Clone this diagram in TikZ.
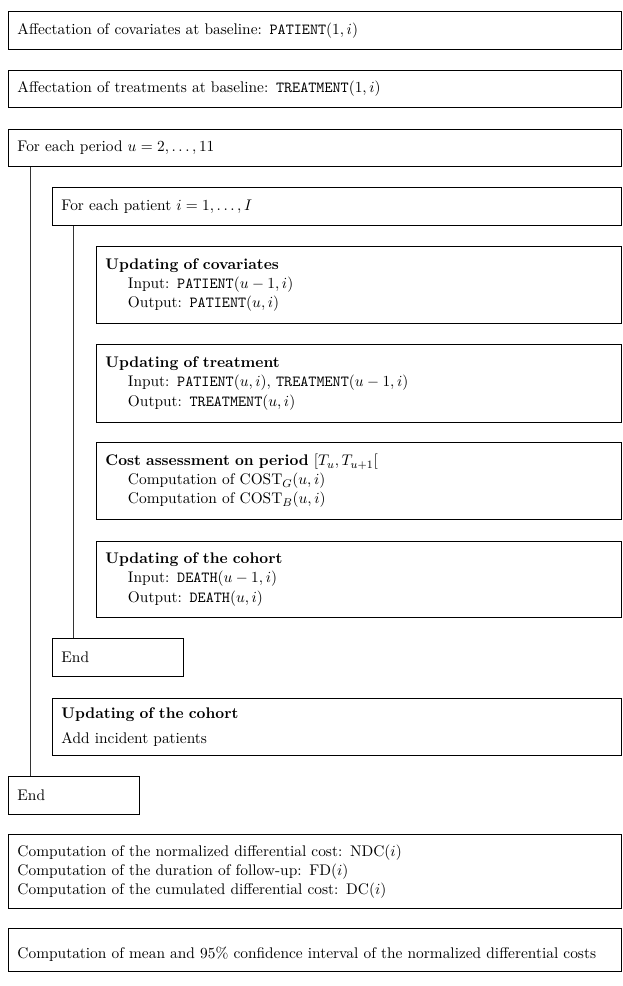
\documentclass[tikz,border=0pt]{standalone}
\usepackage{amsmath}
\usepackage{amssymb}
\usetikzlibrary{positioning}

\tikzset{
  stepbox/.style={draw, line width=0.7pt, rectangle, anchor=north west,
    align=left, inner xsep=0.225cm, inner ysep=0pt,
    font=\fontsize{10.95pt}{13.6pt}\selectfont},
  fullbox/.style={stepbox, text width=14.875cm},
  loopbox/.style={stepbox, text width=13.775cm},
  taskbox/.style={stepbox, text width=12.675cm},
  endbox/.style={stepbox, text width=2.825cm, minimum height=0.96cm},
  loopline/.style={line width=0.7pt, black!80}
}

\begin{document}
\begin{tikzpicture}[x=0.025cm, y=-0.025cm]
	\useasboundingbox (0,0) rectangle (623,986);
	% initialisation
	\node[fullbox, minimum height=0.95cm] (initcov) at (8,11)
		{Affectation of covariates at baseline: \texttt{PATIENT}$(1,i)$};
	\node[fullbox, minimum height=0.925cm] (inittrt) at (8,70)
		{Affectation of treatments at baseline: \texttt{TREATMENT}$(1,i)$};
	% loop over the periods
	\node[fullbox, minimum height=0.925cm] (period) at (8,129)
		{For each period $u=2,\dots,11$};
	% loop over the patients
	\node[loopbox, minimum height=0.95cm] (patient) at (52,187)
		{For each patient $i=1,\dots,I$};
	\node[taskbox, minimum height=1.925cm] (updcov) at (96,246)
		{\textbf{Updating of covariates}\\
		\hspace*{16pt}Input: \texttt{PATIENT}$(u-1,i)$\\
		\hspace*{16pt}Output: \texttt{PATIENT}$(u,i)$};
	\node[taskbox, minimum height=1.95cm] (updtrt) at (96,344)
		{\textbf{Updating of treatment}\\
		\hspace*{16pt}Input: \texttt{PATIENT}$(u,i)$, \texttt{TREATMENT}$(u-1,i)$\\
		\hspace*{16pt}Output: \texttt{TREATMENT}$(u,i)$};
	\node[taskbox, minimum height=1.925cm] (cost) at (96,442)
		{\textbf{Cost assessment on period} $[T_u,T_{u+1}[$\\
		\hspace*{16pt}Computation of $\mathrm{COST}_G(u,i)$\\
		\hspace*{16pt}Computation of $\mathrm{COST}_B(u,i)$};
	\node[taskbox, minimum height=1.9cm] (death) at (96,541)
		{\textbf{Updating of the cohort}\\
		\hspace*{16pt}Input: \texttt{DEATH}$(u-1,i)$\\
		\hspace*{16pt}Output: \texttt{DEATH}$(u,i)$};
	\node[endbox] (endpatient) at (52,638) {End};
	% new patients
	\node[loopbox, minimum height=1.425cm] (incident) at (52,698)
		{\textbf{Updating of the cohort}\\[4pt]
		Add incident patients};
	\node[endbox] (endperiod) at (8,776) {End};
	% final computations
	\node[fullbox, minimum height=1.85cm] (final) at (8,834)
		{Computation of the normalized differential cost: $\mathrm{NDC}(i)$\\
		Computation of the duration of follow-up: $\mathrm{FD}(i)$\\
		Computation of the cumulated differential cost: $\mathrm{DC}(i)$};
	\node[fullbox, minimum height=1.075cm] (mean) at (8,928)
		{\rule{0pt}{14pt}Computation of mean and 95\% confidence interval of the normalized differential costs};
	% loop bars
	\draw[loopline] (period.south west) ++(22,0) coordinate (pbar) -- (pbar |- endperiod.north);
	\draw[loopline] (patient.south west) ++(21,0) coordinate (ibar) -- (ibar |- endpatient.north);
\end{tikzpicture}
\end{document}
